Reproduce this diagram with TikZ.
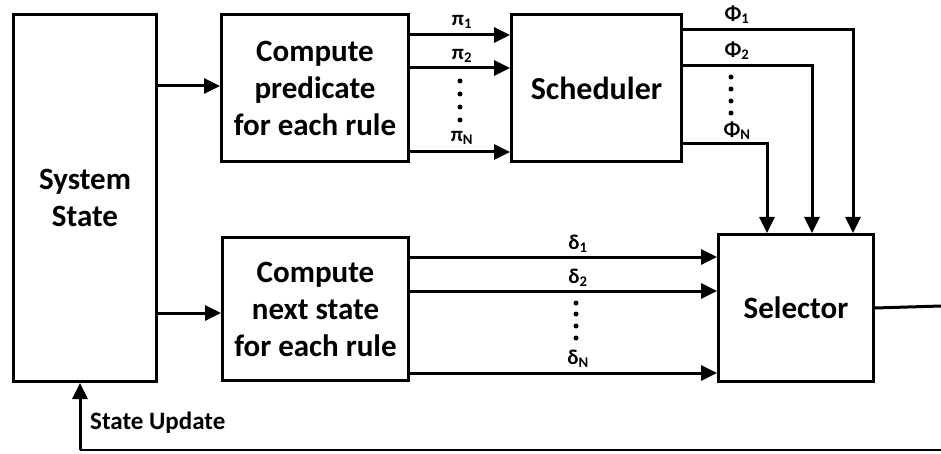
\documentclass[tikz,border=0pt]{standalone}
\usepackage{fontspec}
\setmainfont{Carlito}
\usetikzlibrary{arrows.meta,calc}

\tikzset{
  blk/.style={draw, line width=3pt, align=center, inner sep=0pt,
              font=\bfseries\fontsize{31}{37}\selectfont},
  arr/.style={line width=3pt, -{Triangle[length=16pt,width=15pt]}},
  wire/.style={line width=3pt},
  sig/.style={font=\bfseries\fontsize{21}{22}\selectfont, inner sep=1pt},
  dotmark/.style={circle, fill, inner sep=0pt, minimum size=5pt},
}

\begin{document}
\begin{tikzpicture}[x=1pt, y=-1pt]
  \useasboundingbox (0,0) rectangle (941,454);

  % main blocks
  \node[blk, minimum width=143pt, minimum height=367pt] (sys) at (85,198) {System\\State};
  \node[blk, minimum width=187pt, minimum height=147pt] (pred) at (315,88) {Compute\\predicate\\for each rule};
  \node[blk, minimum width=186pt, minimum height=143pt] (next) at (315.5,309) {Compute\\next state\\for each rule};
  \node[blk, minimum width=170pt, minimum height=147pt, font=\bfseries\fontsize{32}{37}\selectfont] (sched) at (596.5,88) {Scheduler};
  \node[blk, minimum width=155pt, minimum height=147pt] (sel) at (796,308) {Selector};

  % system state feeds both compute blocks
  \draw[arr] (sys.east |- 0,86) -- (pred.west |- 0,86);
  \draw[arr] (sys.east |- 0,313) -- (next.west |- 0,313);

  % predicates pi_i into the scheduler
  \foreach \yy in {35,68,152}
    \draw[arr] (pred.east |- 0,\yy) -- (sched.west |- 0,\yy);
  \node[sig] (p1) at (462,22) {π\textsubscript{1}};
  \node[sig] (p2) at (462,56) {π\textsubscript{2}};
  \node[sig] (pN) at (462,138) {π\textsubscript{N}};
  \foreach \yy [count=\i] in {81,94,107,120}
    \node[dotmark] (pd\i) at (460,\yy) {};

  % next states delta_i into the selector
  \foreach \yy in {257,291,373}
    \draw[arr] (next.east |- 0,\yy) -- (sel.west |- 0,\yy);
  \node[sig] (d1) at (578,244) {δ\textsubscript{1}};
  \node[sig] (d2) at (578,278) {δ\textsubscript{2}};
  \node[sig] (dN) at (578,359) {δ\textsubscript{N}};
  \foreach \yy [count=\i] in {303,314,326,338}
    \node[dotmark] (dd\i) at (576,\yy) {};

  % grants Phi_i from the scheduler down into the selector
  \coordinate (g1) at (853,30);
  \coordinate (g2) at (812,66);
  \coordinate (gN) at (767,144);
  \foreach \g in {g1,g2,gN}
    \draw[arr] (sched.east |- \g) -- (\g) -- (\g |- sel.north);
  \node[sig] (f1) at (737,15) {Φ\textsubscript{1}};
  \node[sig] (f2) at (737,51) {Φ\textsubscript{2}};
  \node[sig] (fN) at (737,131) {Φ\textsubscript{N}};
  \foreach \yy [count=\i] in {77,89,101,113}
    \node[dotmark] (fd\i) at (731,\yy) {};

  % selector output and state update feedback
  \coordinate (outR) at (941,306);
  \coordinate (botR) at (941,450);
  \coordinate (botL) at (80,450);
  \draw[wire] (sel.east) -- (outR);
  \draw[line width=2.5pt] (botR) -- (botL);
  \draw[arr] (botL) -- (botL |- sys.south);
  \node[font=\bfseries\fontsize{25}{26}\selectfont, anchor=west, inner sep=0pt] (upd) at (90,423) {State Update};
\end{tikzpicture}
\end{document}
